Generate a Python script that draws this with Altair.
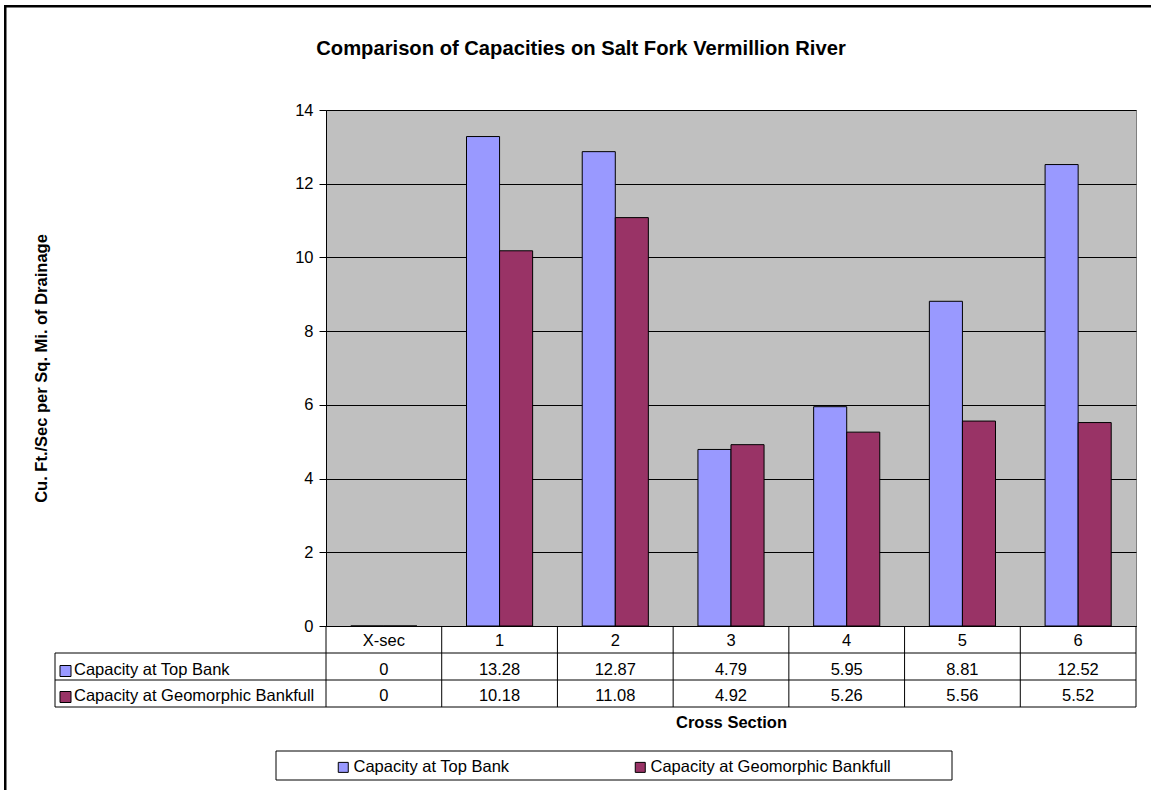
import altair as alt
import pandas as pd

# Cross sections along the Salt Fork Vermillion River
sections = ["X-sec", "1", "2", "3", "4", "5", "6"]
series = ["Capacity at Top Bank", "Capacity at Geomorphic Bankfull"]
top_bank = [0, 13.28, 12.87, 4.79, 5.95, 8.81, 12.52]
bankfull = [0, 10.18, 11.08, 4.92, 5.26, 5.56, 5.52]
colors = ["#9999FF", "#993366"]
y_ticks = [0, 2, 4, 6, 8, 10, 12, 14]

FONT = "Liberation Sans"
FS = 16.5
W, H = 810, 516          # plot area
ROW = 27                 # data-table row height

long_rows = []
for s, vals in zip(series, [top_bank, bankfull]):
    for c, v in zip(sections, vals):
        long_rows.append({"section": c, "series": s, "value": v})
df = pd.DataFrame(long_rows)
sec_df = pd.DataFrame({"section": sections})
ser_df = pd.DataFrame({"series": series})
one = pd.DataFrame({"k": [0]})

x_enc = alt.X("section:N", sort=sections,
              scale=alt.Scale(paddingInner=0, paddingOuter=0))
color_enc = alt.Color(
    "series:N",
    scale=alt.Scale(domain=series, range=colors),
    legend=alt.Legend(
        title=None, orient="none", direction="horizontal",
        legendX=9, legendY=649, symbolType="square", symbolSize=100,
        symbolStrokeColor="black", symbolStrokeWidth=1, symbolOpacity=1,
        labelFont=FONT, labelFontSize=FS, labelColor="black",
        labelOffset=2, columnPadding=122, padding=0, labelLimit=0,
    ),
)

# outer chart-area frame
frame = alt.Chart(one).mark_rect(fill="transparent", stroke="black", strokeWidth=2.5).encode(
    x=alt.value(5.25 - 326), x2=alt.value(W + 80),
    y=alt.value(6.25 - 110), y2=alt.value(H + 220),
)

bars = alt.Chart(df).mark_bar(stroke="black", strokeWidth=1).encode(
    x=alt.X("section:N", sort=sections,
            scale=alt.Scale(paddingInner=0, paddingOuter=0),
            axis=alt.Axis(title="Cross Section", labels=False, ticks=False,
                          domain=True, domainColor="black", grid=False,
                          titleFont=FONT, titleFontSize=FS, titleFontWeight="bold",
                          titleColor="black", titlePadding=88)),
    xOffset=alt.XOffset("series:N", sort=series,
                        scale=alt.Scale(paddingInner=0, paddingOuter=0.75)),
    y=alt.Y("value:Q", scale=alt.Scale(domain=[0, 14], nice=False),
            axis=alt.Axis(values=y_ticks, title="Cu. Ft./Sec per Sq. Mi. of Drainage",
                          grid=True, gridColor="black", gridWidth=1,
                          domainColor="black", tickColor="black", tickSize=7,
                          labelPadding=6, labelFont=FONT, labelFontSize=FS,
                          labelColor="black", titleFont=FONT, titleFontSize=FS,
                          titleFontWeight="bold", titleColor="black",
                          titlePadding=245)),
    color=color_enc,
)

# data table: header row with section names
header = alt.Chart(sec_df).mark_text(font=FONT, fontSize=FS, color="black",
                                     baseline="middle").encode(
    x=x_enc, y=alt.value(H + 15), text="section:N")

# data table: one row of values per series
value_rows = []
key_squares = []
key_labels = []
for i, s in enumerate(series):
    yc = H + 44 + ROW * i - i * 1
    value_rows.append(
        alt.Chart(df).transform_filter(alt.datum.series == s)
        .mark_text(font=FONT, fontSize=FS, color="black", baseline="middle")
        .encode(x=x_enc, y=alt.value(yc), text=alt.Text("value:Q", format="~g"))
    )
    key_squares.append(
        alt.Chart(ser_df).transform_filter(alt.datum.series == s)
        .mark_square(size=121, opacity=1, stroke="black", strokeWidth=1)
        .encode(x=alt.value(-260.5), y=alt.value(yc + 1), color=color_enc)
    )
    key_labels.append(
        alt.Chart(ser_df).transform_filter(alt.datum.series == s)
        .mark_text(font=FONT, fontSize=FS, color="black", baseline="middle", align="left")
        .encode(x=alt.value(-252), y=alt.value(yc), text="series:N")
    )

# table grid
hlines = alt.Chart(pd.DataFrame({"r": [1, 2, 3]})).mark_rule(color="black", strokeWidth=1).encode(
    x=alt.value(-271), x2=alt.value(W),
    y=alt.Y("r:Q", scale=alt.Scale(domain=[0, 1], range=[H, H + ROW]), axis=None),
)
vlines = alt.Chart(sec_df).mark_rule(color="black", strokeWidth=1).encode(
    x=alt.X("section:N", sort=sections, bandPosition=0,
            scale=alt.Scale(paddingInner=0, paddingOuter=0)),
    y=alt.value(H), y2=alt.value(H + 3 * ROW),
)
right_edge = alt.Chart(one).mark_rule(color="black", strokeWidth=1).encode(
    x=alt.value(W), y=alt.value(H), y2=alt.value(H + 3 * ROW))
left_edge = alt.Chart(one).mark_rule(color="black", strokeWidth=1).encode(
    x=alt.value(-271), y=alt.value(H + ROW), y2=alt.value(H + 3 * ROW))

# box around the legend
legend_box = alt.Chart(one).mark_rect(fill="transparent", stroke="black", strokeWidth=1).encode(
    x=alt.value(276 - 326), x2=alt.value(952 - 326),
    y=alt.value(751 - 110), y2=alt.value(780 - 110),
)

chart = alt.layer(
    frame, bars, header, *value_rows, hlines, vlines, right_edge, left_edge,
    *key_squares, *key_labels, legend_box,
).resolve_scale(y="independent").properties(
    width=W, height=H,
    background="white",
    title=alt.TitleParams("Comparison of Capacities on Salt Fork Vermillion River",
                          font=FONT, fontSize=20.2, fontWeight="bold", color="black",
                          anchor="middle", frame="group", dx=-150, offset=0, dy=64,
                          baseline="middle"),
    padding={"left": 326, "top": 110, "right": 15, "bottom": 164},
    autosize=alt.AutoSizeParams(type="none"),
).configure_view(
    fill="#C0C0C0", stroke="#808080", strokeWidth=1,
)

chart.save("out.html", embed_options={"renderer": "svg", "actions": False})
